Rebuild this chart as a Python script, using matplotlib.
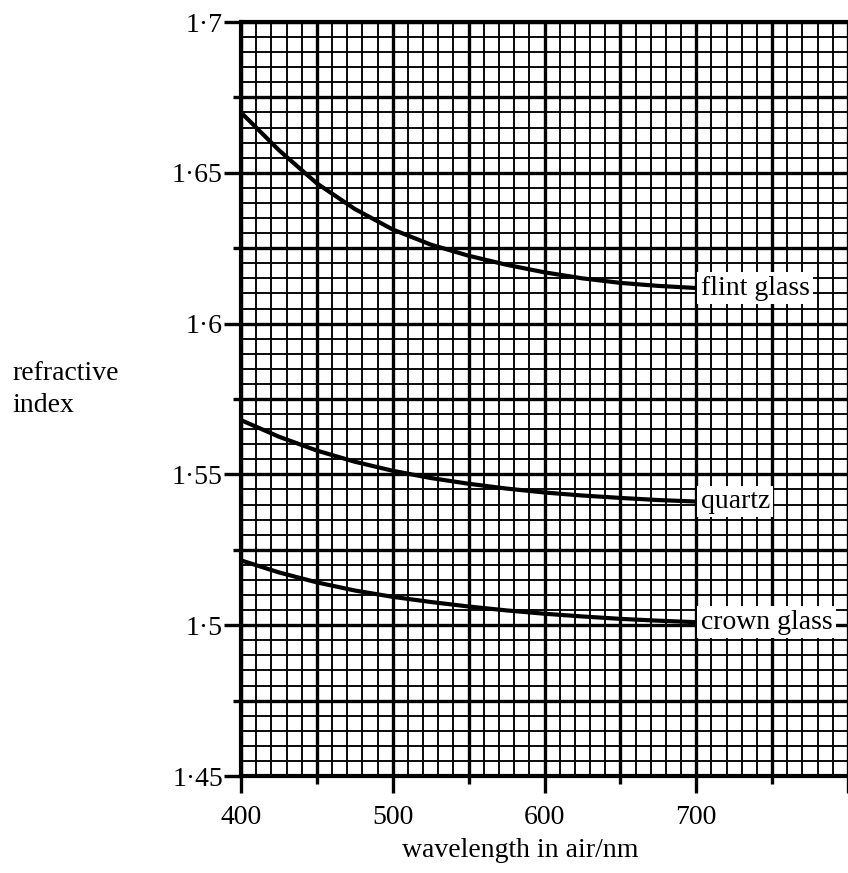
import matplotlib
matplotlib.use("Agg")
import matplotlib.pyplot as plt
import numpy as np
from matplotlib.ticker import MultipleLocator, FixedLocator, FixedFormatter

plt.rcParams["font.family"] = ["Liberation Serif", "DejaVu Serif"]

# wavelength samples (nm) and refractive index
wavelength = [400, 425, 450, 475, 500, 525, 550, 575, 600, 625, 650, 675, 700]
flint_glass = [1.670, 1.6575, 1.6465, 1.638, 1.6312, 1.6262, 1.6225, 1.6195,
               1.617, 1.615, 1.6135, 1.6125, 1.6118]
quartz = [1.568, 1.5625, 1.5579, 1.5542, 1.5512, 1.5488, 1.5469, 1.5453,
          1.544, 1.543, 1.5422, 1.5415, 1.541]
crown_glass = [1.5215, 1.5175, 1.5142, 1.5115, 1.5094, 1.5077, 1.5062, 1.5049,
               1.5038, 1.5029, 1.5021, 1.5015, 1.501]
series = [("flint glass", flint_glass), ("quartz", quartz), ("crown glass", crown_glass)]

y_ticks = [1.45, 1.5, 1.55, 1.6, 1.65, 1.7]
y_labels = ["1\u00b745", "1\u00b75", "1\u00b755", "1\u00b76", "1\u00b765", "1\u00b77"]
x_ticks = [400, 500, 600, 700, 800]
x_labels = ["400", "500", "600", "700", ""]

W, H = 848, 873
fig = plt.figure(figsize=(W / 100, H / 100), dpi=100)
ax = fig.add_axes([241 / W, 1 - 776 / H, (848 - 241) / W, (776 - 22) / H])
ax.set_xlim(400, 800)
ax.set_ylim(1.45, 1.7)

# graph paper: fine lines every 10 nm / 0.005, heavy every 50 nm / 0.025
for xv in np.arange(400, 801, 10):
    heavy = xv % 50 == 0
    ax.axvline(xv, color="black", lw=2.4 if heavy else 1.35, zorder=1)
for i, yv in enumerate(np.arange(1.45, 1.7001, 0.005)):
    heavy = i % 5 == 0
    ax.axhline(yv, color="black", lw=2.4 if heavy else 1.35, zorder=1)

for name, vals in series:
    ax.plot(wavelength, vals, color="black", lw=3.0, zorder=3, solid_capstyle="butt")
    ax.text(703, vals[-1], name, fontsize=20, ha="left", va="center", zorder=4,
            bbox=dict(boxstyle="square,pad=0.12", fc="white", ec="none"))

for side in ["left", "bottom", "top"]:
    ax.spines[side].set_linewidth(3)
ax.spines["right"].set_visible(False)

ax.yaxis.set_major_locator(FixedLocator(y_ticks))
ax.yaxis.set_major_formatter(FixedFormatter(y_labels))
ax.yaxis.set_minor_locator(FixedLocator([1.475, 1.525, 1.575, 1.625, 1.675]))
ax.xaxis.set_major_locator(FixedLocator(x_ticks))
ax.xaxis.set_major_formatter(FixedFormatter(x_labels))
ax.xaxis.set_minor_locator(MultipleLocator(50))

ax.tick_params(axis="y", which="major", direction="out", length=12, width=2.4,
               pad=1, labelsize=20)
ax.tick_params(axis="y", which="minor", direction="out", length=6, width=2.4)
ax.tick_params(axis="x", which="major", direction="out", length=12, width=2.4,
               pad=9, labelsize=20)
ax.tick_params(axis="x", which="minor", direction="out", length=6, width=2.4)

fig.text(520 / W, 1 - 857 / H, "wavelength in air/nm", fontsize=20, ha="center", va="baseline")
fig.text(12 / W, 1 - 380 / H, "refractive", fontsize=20, ha="left", va="baseline")
fig.text(12 / W, 1 - 412 / H, "index", fontsize=20, ha="left", va="baseline")

fig.savefig("out.png", dpi=100)
